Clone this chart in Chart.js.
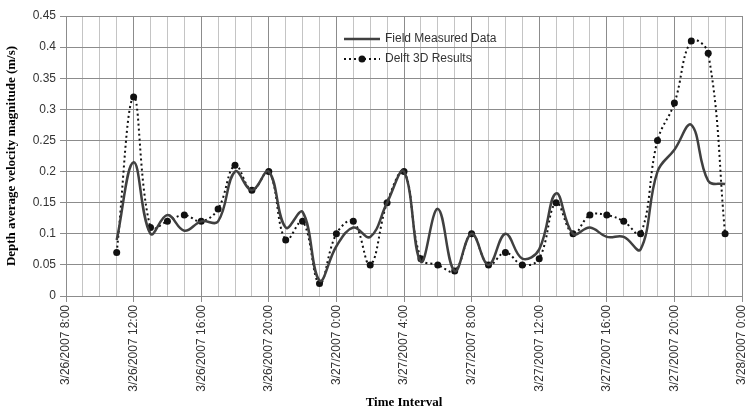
<!DOCTYPE html>
<html>
<head>
<meta charset="utf-8">
<script src="https://cdn.jsdelivr.net/npm/chart.js@4"></script>
<style>
  body { margin: 0; background: #fff; }
  canvas { display: block; }
</style>
</head>
<body>
<canvas id="velocityChart" width="746" height="412"></canvas>
<script>
// hours counted from 3/26/2007 0:00
const hours = [11, 12, 13, 14, 15, 16, 17, 18, 19, 20, 21, 22, 23,
  24, 25, 26, 27, 28, 29, 30, 31, 32, 33, 34, 35, 36, 37, 38, 39, 40, 41, 42, 43, 44, 45, 46, 47];

const fieldMeasured = [0.09, 0.215, 0.10, 0.13, 0.105, 0.12, 0.12, 0.20, 0.17, 0.20, 0.11, 0.135, 0.025,
  0.08, 0.11, 0.095, 0.15, 0.20, 0.055, 0.14, 0.04, 0.10, 0.05, 0.10, 0.06, 0.075, 0.165,
  0.10, 0.11, 0.095, 0.095, 0.075, 0.20, 0.235, 0.275, 0.185, 0.18];

const delft3d = [0.07, 0.32, 0.11, 0.12, 0.13, 0.12, 0.14, 0.21, 0.17, 0.20, 0.09, 0.12, 0.02,
  0.10, 0.12, 0.05, 0.15, 0.20, 0.06, 0.05, 0.04, 0.10, 0.05, 0.07, 0.05, 0.06, 0.15,
  0.10, 0.13, 0.13, 0.12, 0.10, 0.25, 0.31, 0.41, 0.39, 0.10];

// one label every 4 hours, from 3/26/2007 8:00 to 3/28/2007 0:00
const tickLabels = ['3/26/2007 8:00', '3/26/2007 12:00', '3/26/2007 16:00', '3/26/2007 20:00',
  '3/27/2007 0:00', '3/27/2007 4:00', '3/27/2007 8:00', '3/27/2007 12:00',
  '3/27/2007 16:00', '3/27/2007 20:00', '3/28/2007 0:00'];

const seriesNames = ['Field Measured Data', 'Delft 3D Results'];

const tickFont = { family: 'Liberation Sans', size: 12 };
const titleFont = { family: 'Liberation Serif', size: 13, weight: 'bold' };

// legend drawn inside the plot, like the original
const insideLegend = {
  id: 'insideLegend',
  afterDatasetsDraw(chart) {
    const ctx = chart.ctx;
    const x0 = 344, x1 = 380;
    const rows = [39, 59];
    ctx.save();
    chart.data.datasets.forEach((ds, i) => {
      const y = rows[i];
      ctx.strokeStyle = ds.borderColor;
      ctx.lineWidth = ds.borderWidth;
      ctx.setLineDash(ds.borderDash || []);
      ctx.beginPath();
      ctx.moveTo(x0, y);
      ctx.lineTo(x1, y);
      ctx.stroke();
      ctx.setLineDash([]);
      if (ds.pointRadius > 0) {
        ctx.fillStyle = ds.pointBackgroundColor;
        ctx.beginPath();
        ctx.arc((x0 + x1) / 2, y, ds.pointRadius, 0, Math.PI * 2);
        ctx.fill();
      }
      ctx.fillStyle = '#333';
      ctx.font = '12px "Liberation Sans"';
      ctx.textBaseline = 'middle';
      ctx.fillText(ds.label, x1 + 5, y);
    });
    ctx.restore();
  }
};

const ctx = document.getElementById('velocityChart').getContext('2d');

const velocityChart = new Chart(ctx, {
  type: 'line',
  data: {
    datasets: [
      {
        label: seriesNames[0],
        data: hours.map((h, i) => ({ x: h, y: fieldMeasured[i] })),
        borderColor: '#404040',
        borderWidth: 2.5,
        pointRadius: 0,
        tension: 0.4,
        fill: false,
      },
      {
        label: seriesNames[1],
        data: hours.map((h, i) => ({ x: h, y: delft3d[i] })),
        borderColor: '#111',
        borderWidth: 2,
        borderDash: [2, 3],
        pointRadius: 3.5,
        pointBackgroundColor: '#111',
        pointBorderWidth: 0,
        tension: 0.4,
        fill: false,
      },
    ],
  },
  options: {
    responsive: false,
    animation: false,
    layout: { padding: { top: 16, right: 3, left: 0, bottom: 0 } },
    plugins: {
      legend: { display: false },
      tooltip: { enabled: false },
    },
    scales: {
      x: {
        type: 'linear',
        min: 8,
        max: 48,
        afterFit(scale) {
          scale.height = 116;
          // let the last date label run off the edge as in the original
          scale.paddingRight = 0;
          scale.paddingLeft = 0;
        },
        ticks: {
          stepSize: 1,
          autoSkip: false,
          maxRotation: 90,
          minRotation: 90,
          padding: 3,
          color: '#333',
          font: tickFont,
          callback: (value) => (value % 4 === 0 ? tickLabels[(value - 8) / 4] : ''),
        },
        grid: {
          color: (c) => (c.tick && c.tick.value % 4 === 0 ? '#8c8c8c' : '#c4c4c4'),
          tickColor: (c) => (c.tick && c.tick.value % 4 === 0 ? '#8c8c8c' : 'rgba(0,0,0,0)'),
          tickLength: 6,
        },
        border: { color: '#8c8c8c' },
        title: {
          display: true,
          text: 'Time Interval',
          color: '#000',
          font: titleFont,
          padding: { top: 0, bottom: 2 },
        },
      },
      y: {
        min: 0,
        max: 0.45,
        afterFit(scale) { scale.width = 66; },
        ticks: {
          stepSize: 0.05,
          padding: 4,
          color: '#333',
          font: tickFont,
          callback: (value) => parseFloat(value.toFixed(2)).toString(),
        },
        grid: {
          color: '#8c8c8c',
          tickLength: 6,
        },
        border: { color: '#8c8c8c' },
        title: {
          display: true,
          text: 'Depth average velocity magnitude (m/s)',
          color: '#000',
          font: titleFont,
          padding: { top: 4, bottom: 0 },
        },
      },
    },
  },
  plugins: [insideLegend],
});
</script>
</body>
</html>
